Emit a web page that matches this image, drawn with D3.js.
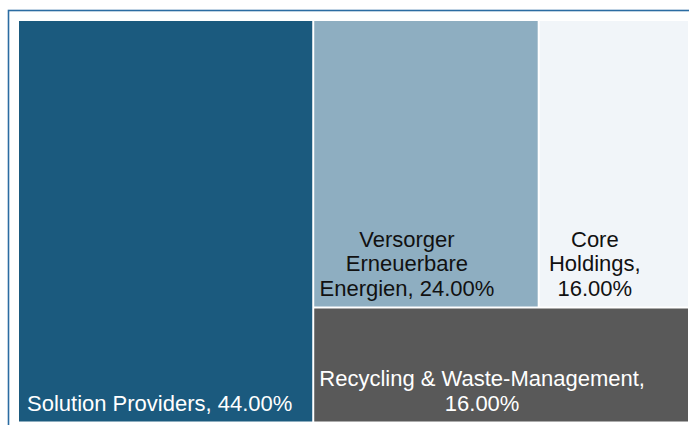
<!DOCTYPE html>
<html>
<head>
<meta charset="utf-8">
<script src="https://cdn.jsdelivr.net/npm/d3@7"></script>
<style>
  html, body { margin: 0; padding: 0; background: #fff; }
  svg { display: block; }
</style>
</head>
<body>
<svg id="chart" width="689" height="425"></svg>
<script>
// ---- data ----
const categories = ["Solution Providers", "Versorger Erneuerbare Energien", "Core Holdings", "Recycling & Waste-Management"];
const shares = [44.00, 24.00, 16.00, 16.00];

// ---- styles ----
const fills = ["#1b5a7e", "#8eaec1", "#f1f5f9", "#595959"];
const textColors = ["#ffffff", "#111111", "#111111", "#ffffff"];
const aligns = ["start", "middle", "middle", "middle"];

(function () {
const svg = d3.select("#chart");

// frame
svg.append("rect")
  .attr("x", 8.5).attr("y", 10.5)
  .attr("width", 720).attr("height", 440)
  .attr("fill", "none")
  .attr("stroke", "#2b6ca2")
  .attr("stroke-width", 1.6);

const root = d3.hierarchy({children: categories.map((c, i) => ({name: c, value: shares[i], idx: i}))})
  .sum(d => d.value || 0);

const padLeft = 19, padTop = 21;
d3.treemap()
  .tile(d3.treemapSquarify.ratio(1))
  .size([669, 400.5])
  .paddingInner(2)
  .round(false)(root);

const fmt = d3.format(".2f");
const fontSize = 22, lineH = 24.3;

const plot = svg.append("g").attr("transform", `translate(${padLeft},${padTop})`);

const cells = plot.selectAll("g.cell")
  .data(root.leaves())
  .join("g").attr("class", "cell");

cells.append("rect")
  .attr("x", d => d.x0).attr("y", d => d.y0)
  .attr("width", d => d.x1 - d.x0)
  .attr("height", d => d.y1 - d.y0)
  .attr("fill", d => fills[d.data.idx]);

cells.each(function(d) {
  const g = d3.select(this);
  const i = d.data.idx;
  const label = d.data.name + ", " + fmt(d.data.value) + "%";
  const words = label.split(" ");
  const maxW = (d.x1 - d.x0) - 16;
  const text = g.append("text")
    .attr("font-family", "Liberation Sans, Arial, Helvetica, sans-serif")
    .attr("font-size", fontSize)
    .attr("fill", textColors[i])
    .attr("text-anchor", aligns[i]);
  const lines = [];
  let cur = "";
  const probe = text.append("tspan");
  words.forEach(w => {
    const test = cur ? cur + " " + w : w;
    probe.text(test);
    if (probe.node().getComputedTextLength() > maxW && cur) {
      lines.push(cur);
      cur = w;
    } else cur = test;
  });
  if (cur) lines.push(cur);
  probe.remove();
  const x = aligns[i] === "start" ? d.x0 + 8 : (d.x0 + d.x1) / 2 - 19;
  const lastBaseline = d.y1 - 11;
  lines.forEach((ln, k) => {
    text.append("tspan")
      .attr("x", x)
      .attr("y", lastBaseline - (lines.length - 1 - k) * lineH)
      .text(ln);
  });
});
})();
</script>
</body>
</html>
